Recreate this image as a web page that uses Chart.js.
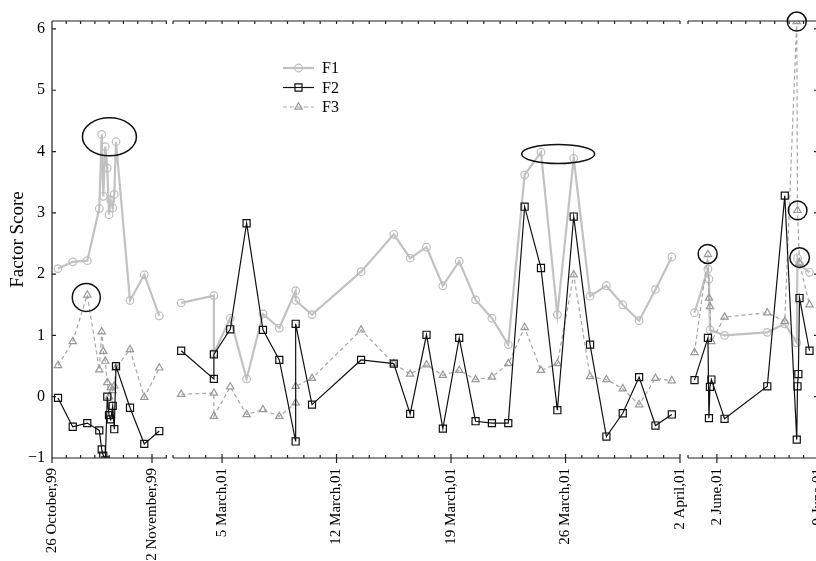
<!DOCTYPE html>
<html>
<head>
<meta charset="utf-8">
<script src="https://cdn.jsdelivr.net/npm/chart.js@4.4.1/dist/chart.umd.min.js"></script>
<style>
html, body { margin: 0; padding: 0; background: #fff; width: 816px; height: 561px; overflow: hidden; position: relative; }
canvas { position: absolute; top: 0; }
</style>
</head>
<body>
<canvas id="c1" width="180" height="561" style="left:0px"></canvas>
<canvas id="c2" width="535" height="561" style="left:159px"></canvas>
<canvas id="c3" width="158" height="561" style="left:674px"></canvas>
<script>
// panel 1: days after 26 October 1999
var days1 = [0.42, 1.45, 2.47, 3.31, 3.48, 3.59, 3.73, 3.87, 3.99, 4.11, 4.25, 4.36, 4.48, 5.46, 6.46, 7.51];
var f1a = [2.09, 2.20, 2.22, 3.07, 4.28, 3.27, 4.08, 3.73, 2.97, 3.21, 3.08, 3.30, 4.16, 1.57, 1.99, 1.32];
var f2a = [-0.02, -0.49, -0.43, -0.55, -0.86, -0.96, -1.04, 0.00, -0.30, -0.37, -0.15, -0.53, 0.50, -0.18, -0.77, -0.56];
var f3a = [0.51, 0.90, 1.66, 0.44, 1.06, 0.74, 0.58, 0.23, 0.00, 0.15, 0.10, 0.18, 0.47, 0.77, -0.01, 0.47];

// panel 2: day of March 2001
var days2 = [2.5, 4.5, 4.5, 5.5, 6.5, 7.5, 8.5, 9.5, 9.5, 10.5, 13.5, 15.5, 16.5, 17.5, 18.5, 19.5, 20.5, 21.5, 22.5, 23.5, 24.5, 25.5, 26.5, 27.5, 28.5, 29.5, 30.5, 31.5, 32.5];
var f1b = [1.53, 1.65, 0.71, 1.28, 0.29, 1.35, 1.12, 1.73, 1.57, 1.34, 2.04, 2.65, 2.26, 2.44, 1.81, 2.21, 1.58, 1.28, 0.85, 3.62, 3.99, 1.34, 3.89, 1.64, 1.81, 1.50, 1.24, 1.75, 2.28];
var f2b = [0.75, 0.29, 0.69, 1.10, 2.83, 1.09, 0.60, -0.73, 1.19, -0.13, 0.60, 0.54, -0.28, 1.01, -0.52, 0.96, -0.40, -0.43, -0.43, 3.10, 2.10, -0.22, 2.94, 0.85, -0.65, -0.27, 0.32, -0.47, -0.29];
var f3b = [0.04, 0.06, -0.32, 0.16, -0.29, -0.21, -0.32, -0.10, 0.17, 0.30, 1.09, 0.54, 0.37, 0.52, 0.35, 0.43, 0.28, 0.32, 0.54, 1.13, 0.43, 0.54, 1.99, 0.33, 0.28, 0.13, -0.13, 0.30, 0.26];

// panel 3: day of June 2001 (0 = 31 May)
var days3 = [0.45, 1.38, 1.45, 1.52, 1.62, 2.53, 5.49, 6.70, 7.53, 7.58, 7.64, 7.72, 8.41];
var f1c = [1.37, 2.08, 1.92, 1.09, null, 1.00, 1.05, 1.19, 0.88, 2.26, null, 2.16, 2.03];
var f2c = [0.27, 0.96, -0.35, 0.16, 0.28, -0.36, 0.17, 3.28, -0.70, 0.17, 0.37, 1.61, 0.75];
var f3c = [0.72, 2.32, 1.61, 1.47, 0.90, 1.30, 1.37, 1.23, 6.12, 3.04, null, 2.18, 1.50];

var ticks1 = [0, 7];
var tickLabels1 = ['26 October,99', '2 November,99'];
var ticks2 = [5, 12, 19, 26, 33];
var tickLabels2 = ['5 March,01', '12 March,01', '19 March,01', '26 March,01', '2 April,01'];
var ticks3 = [2, 9];
var tickLabels3 = ['2 June,01', '9 June,01'];
var yTicks = [-1, 0, 1, 2, 3, 4, 5, 6];

var serif = 'Liberation Serif';

function pts(days, vals) {
    return days.map(function (d, i) { return { x: d, y: vals[i] }; });
}

function marker(ctx, style, x, y, r) {
    ctx.beginPath();
    if (style === 'circle') {
        ctx.arc(x, y, r, 0, Math.PI * 2);
    } else if (style === 'rect') {
        var s = r * Math.SQRT1_2;
        ctx.rect(x - s, y - s, 2 * s, 2 * s);
    } else {
        ctx.moveTo(x, y - r);
        ctx.lineTo(x + r * 0.87, y + r * 0.5);
        ctx.lineTo(x - r * 0.87, y + r * 0.5);
        ctx.closePath();
    }
    ctx.stroke();
}

var frame = {
    id: 'frame',
    afterDraw: function (chart, args, o) {
        var ctx = chart.ctx, a = chart.chartArea, xs = chart.scales.x, ys = chart.scales.y;
        ctx.save();
        ctx.strokeStyle = '#222';
        ctx.lineWidth = 1.2;
        ctx.setLineDash([]);
        ctx.beginPath();
        ctx.moveTo(a.left, a.top); ctx.lineTo(a.right, a.top);
        ctx.moveTo(a.left, a.bottom); ctx.lineTo(a.right, a.bottom);
        if (o.left) { ctx.moveTo(a.left, a.top); ctx.lineTo(a.left, a.bottom); }
        if (o.right) { ctx.moveTo(a.right, a.top); ctx.lineTo(a.right, a.bottom); }
        for (var d = Math.ceil(xs.min); d <= xs.max; d++) {
            var px = xs.getPixelForValue(d);
            ctx.moveTo(px, a.top); ctx.lineTo(px, a.top + 3);
            ctx.moveTo(px, a.bottom); ctx.lineTo(px, a.bottom - 3);
        }
        xs.ticks.forEach(function (t) {
            var px = xs.getPixelForValue(t.value);
            ctx.moveTo(px, a.bottom - 4); ctx.lineTo(px, a.bottom + 5);
        });
        yTicks.forEach(function (v) {
            var py = ys.getPixelForValue(v);
            if (o.left) { ctx.moveTo(a.left, py); ctx.lineTo(a.left + 4, py); }
            if (o.right) { ctx.moveTo(a.right, py); ctx.lineTo(a.right - 4, py); }
        });
        ctx.stroke();

        // rings round the marked peaks
        ctx.strokeStyle = '#111';
        ctx.lineWidth = 1.5;
        (o.rings || []).forEach(function (r) {
            ctx.beginPath();
            ctx.ellipse(xs.getPixelForValue(r.x), ys.getPixelForValue(r.y), r.rx, r.ry, 0, 0, Math.PI * 2);
            ctx.stroke();
        });

        if (o.legend) {
            var lx = a.left + o.legend.x, ly = a.top + o.legend.y;
            ['F1', 'F2', 'F3'].forEach(function (name, i) {
                var ds = chart.data.datasets.filter(function (s) { return s.label === name; })[0];
                var y = ly + i * 19.5;
                ctx.strokeStyle = ds.borderColor;
                ctx.lineWidth = ds.borderWidth;
                ctx.setLineDash(ds.borderDash || []);
                ctx.beginPath();
                ctx.moveTo(lx, y); ctx.lineTo(lx + 31, y);
                ctx.stroke();
                ctx.setLineDash([]);
                ctx.lineWidth = ds.pointBorderWidth;
                ctx.strokeStyle = ds.pointBorderColor;
                marker(ctx, ds.pointStyle, lx + 15.5, y, ds.pointRadius);
                ctx.fillStyle = '#000';
                ctx.font = '16px "' + serif + '"';
                ctx.textBaseline = 'middle';
                ctx.textAlign = 'left';
                ctx.fillText(name, lx + 39, y + 1);
            });
        }
        ctx.restore();
    }
};

function crearPanel(id, p) {
    var datasets = [
        { label: 'F1', data: pts(p.days, p.f1), borderColor: '#c2c2c2', borderWidth: 2.2,
          pointStyle: 'circle', pointRadius: 3.8, pointBorderColor: '#bdbdbd', pointBorderWidth: 1.2,
          pointBackgroundColor: 'rgba(255,255,255,0)', order: 2 },
        { label: 'F2', data: pts(p.days, p.f2), borderColor: '#111', borderWidth: 1.2,
          pointStyle: 'rect', pointRadius: 5, pointBorderColor: '#111', pointBorderWidth: 1.2,
          pointBackgroundColor: 'rgba(255,255,255,0)', order: 0 },
        { label: 'F3', data: pts(p.days, p.f3), borderColor: '#a6a6a6', borderWidth: 1.2, borderDash: [4, 3],
          pointStyle: 'triangle', pointRadius: 4.2, pointBorderColor: '#999', pointBorderWidth: 1.2,
          pointBackgroundColor: 'rgba(255,255,255,0)', order: 1 }
    ];
    new Chart(document.getElementById(id), {
        type: 'line',
        data: { datasets: datasets },
        options: {
            responsive: false,
            animation: false,
            devicePixelRatio: 1,
            events: [],
            spanGaps: true,
            layout: { padding: p.padding },
            elements: { line: { tension: 0 } },
            plugins: { legend: { display: false }, tooltip: { enabled: false }, frame: p.frame },
            scales: {
                x: {
                    type: 'linear', min: p.min, max: p.max,
                    afterBuildTicks: function (s) { s.ticks = p.ticks.map(function (v) { return { value: v }; }); },
                    afterFit: function (s) { s.height = 103; s.paddingLeft = 0; s.paddingRight = 0; },
                    grid: { display: false, drawTicks: false },
                    border: { display: false },
                    ticks: {
                        autoSkip: false, minRotation: 90, maxRotation: 90, padding: 10, color: '#000',
                        font: { family: serif, size: 15 },
                        callback: function (v) { var i = p.ticks.indexOf(v); return i >= 0 ? p.labels[i] : ''; }
                    }
                },
                y: {
                    display: p.showY, min: -1, max: 6.13,
                    afterBuildTicks: function (s) { s.ticks = yTicks.map(function (v) { return { value: v }; }); },
                    afterFit: function (s) { s.width = p.showY ? 52 : 0; s.paddingTop = 0; s.paddingBottom = 0; },
                    grid: { display: false, drawTicks: false },
                    border: { display: false },
                    ticks: {
                        padding: 7, color: '#000', font: { family: serif, size: 16 },
                        callback: function (v) { return v < 0 ? '\u2212' + Math.abs(v) : String(v); }
                    },
                    title: { display: true, text: 'Factor Score', color: '#000', font: { family: serif, size: 19 }, padding: { top: 7 } }
                }
            }
        },
        plugins: [frame]
    });
}

crearPanel('c1', {
    days: days1, f1: f1a, f2: f2a, f3: f3a, min: 0, max: 8.05,
    ticks: ticks1, labels: tickLabels1, showY: true,
    padding: { top: 21, right: 13, left: 0, bottom: 0 },
    frame: { left: true, rings: [{ x: 4.02, y: 4.24, rx: 27, ry: 19 }, { x: 2.40, y: 1.62, rx: 14, ry: 14 }] }
});

crearPanel('c2', {
    days: days2, f1: f1b, f2: f2b, f3: f3b, min: 2, max: 33,
    ticks: ticks2, labels: tickLabels2, showY: false,
    padding: { top: 21, right: 14, left: 14, bottom: 0 },
    frame: { rings: [{ x: 25.55, y: 3.96, rx: 36.5, ry: 9.5 }], legend: { x: 110, y: 47 } }
});

crearPanel('c3', {
    days: days3, f1: f1c, f2: f2c, f3: f3c, min: 0, max: 9,
    ticks: ticks3, labels: tickLabels3, showY: false,
    padding: { top: 21, right: 14, left: 14, bottom: 0 },
    frame: { right: true, rings: [{ x: 1.36, y: 2.33, rx: 9.5, ry: 9.5 }, { x: 7.53, y: 6.12, rx: 9.5, ry: 9.5 },
        { x: 7.59, y: 3.04, rx: 9.3, ry: 9.3 }, { x: 7.73, y: 2.27, rx: 9.8, ry: 9.8 }] }
});
</script>
</body>
</html>
